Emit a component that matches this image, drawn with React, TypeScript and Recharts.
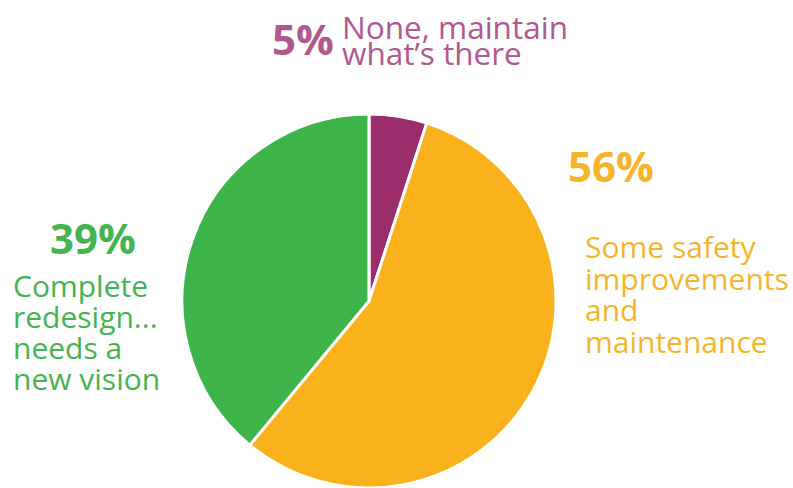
import React from 'react';
import { PieChart, Pie, Cell } from 'recharts';

const categories = ['None, maintain what\u2019s there', 'Some safety improvements and maintenance', 'Complete redesign... needs a new vision'];
const shares = [5, 56, 39];
const sliceColors = ['#9B2D6A', '#F9B21B', '#3DB54A'];
const textColors = ['#B0598F', '#F5B52A', '#45B34F'];
const labelLines = [
  ['None, maintain', 'what\u2019s there'],
  ['Some safety', 'improvements', 'and', 'maintenance'],
  ['Complete', 'redesign...', 'needs a', 'new vision'],
];

const data = categories.map((name, i) => ({ name, value: shares[i] }));

// where each label block sits on the canvas
const layout = [
  { pctX: 272, pctY: 55, textX: 342, textY: 39, lineGap: 26, size: 31.5 },
  { pctX: 568, pctY: 182, textX: 585, textY: 258, lineGap: 31.5, size: 30 },
  { pctX: 50, pctY: 254, textX: 13, textY: 297, lineGap: 31, size: 30 },
];

const FONT = '"Open Sans", sans-serif';

function SliceLabel(props: any) {
  const i = props.index;
  const l = layout[i];
  const color = textColors[i];
  return (
    <g>
      <text x={l.pctX} y={l.pctY} fill={color} fontFamily={FONT} fontWeight={700} fontSize={42}>
        {`${shares[i]}%`}
      </text>
      {labelLines[i].map((line, k) => (
        <text key={k} x={l.textX} y={l.textY + k * l.lineGap} fill={color} fontFamily={FONT} fontSize={l.size}>
          {line}
        </text>
      ))}
    </g>
  );
}

export default function App() {
  return (
    <div style={{ position: 'absolute', left: 0, top: 0, width: 793, height: 488, background: '#fff' }}>
      <PieChart width={793} height={488} margin={{ top: 0, right: 0, bottom: 0, left: 0 }}>
        <Pie
          data={data}
          dataKey="value"
          nameKey="name"
          cx={369}
          cy={301}
          outerRadius={187}
          startAngle={90}
          endAngle={-270}
          stroke="#fff"
          strokeWidth={3}
          label={SliceLabel}
          labelLine={false}
          isAnimationActive={false}
        >
          {data.map((d, i) => (
            <Cell key={d.name} fill={sliceColors[i]} />
          ))}
        </Pie>
      </PieChart>
    </div>
  );
}
